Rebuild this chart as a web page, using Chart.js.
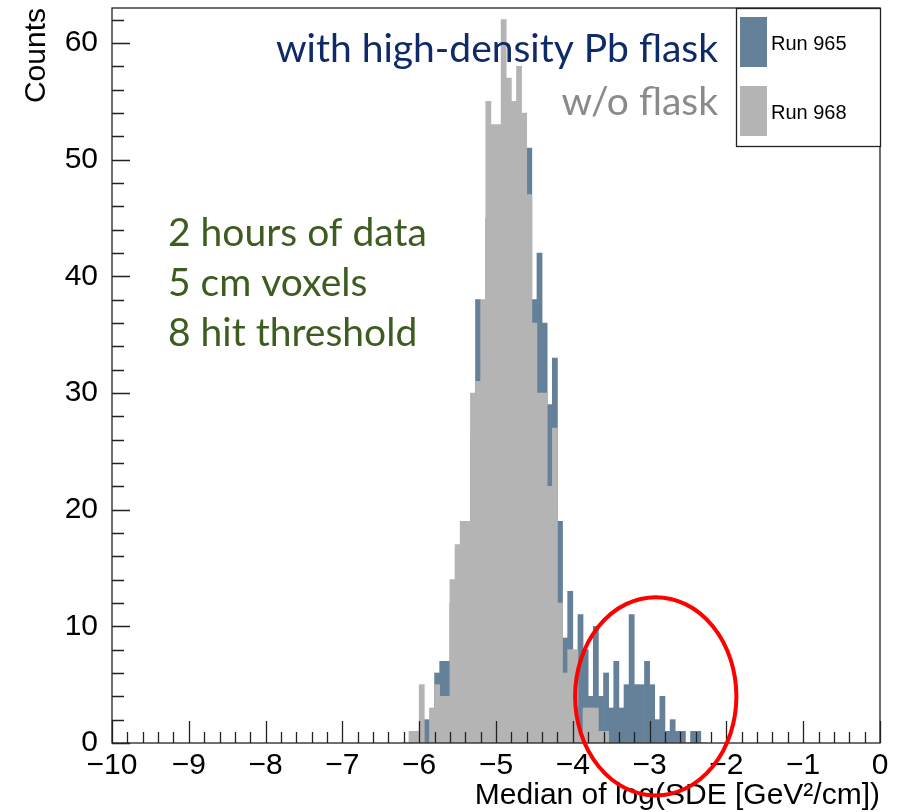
<!DOCTYPE html>
<html>
<head>
<meta charset="utf-8">
<script src="https://cdn.jsdelivr.net/npm/chart.js@4.4.1/dist/chart.umd.min.js"></script>
<style>
  html, body { margin: 0; padding: 0; background: #fff; }
</style>
</head>
<body>
<canvas id="chart1" width="898" height="812"></canvas>
<script>
// histogram: 150 bins on [-10, 0], only the filled range is listed
const firstBin = -6.2;
const binWidth = 1 / 15;
const run965 = [0, 0, 1, 1, 2, 2, 6, 7, 7, 12, 14, 16, 17, 26, 38, 33, 45, 47, 48, 50,
                49, 50, 48, 47, 51, 38, 42, 36, 29, 33, 19, 9, 13, 7, 11, 8, 4, 10, 4, 6,
                3, 7, 3, 5, 11, 5, 5, 7, 5, 2, 4, 1, 2, 1, 1, 0, 1, 1, 0];
const run968 = [0, 1, 1, 5, 0, 3, 5, 4, 4, 14, 17, 19, 19, 30, 31, 38, 55, 53, 53, 62,
                57, 55, 58, 54, 47, 36, 30, 30, 22, 27, 12, 6, 8, 8, 1, 3, 3, 3, 1, 1,
                0, 0, 0, 0, 0, 0, 0, 0, 0, 0, 0, 0, 0, 0, 0, 0, 0, 0, 0];
const seriesLabels = ["Run 965", "Run 968"];
const seriesColors = ["rgb(101,129,153)", "rgb(180,180,180)"];
const xRange = [-10, 0];
const yRange = [0, 63];

const notes = {
  top: ["with high-density Pb flask", "w/o flask"],
  topColors: ["#0f2a68", "#8a8a8a"],
  side: ["2 hours of data", "5 cm voxels", "8 hit threshold"],
  sideColor: "#3d5c20"
};

function toPoints(counts) {
  return counts.map((c, i) => ({ x: firstBin + (i + 0.5) * binWidth, y: c }));
}

const rootStyle = {
  id: "rootStyle",
  afterDatasetsDraw(chart) {
    const ctx = chart.ctx;
    const a = chart.chartArea;
    const xs = chart.scales.x, ys = chart.scales.y;
    ctx.save();
    ctx.strokeStyle = "#222";
    ctx.lineWidth = 1.3;
    ctx.strokeRect(a.left, a.top, a.right - a.left, a.bottom - a.top);
    ctx.beginPath();
    for (let i = 0; i <= 50; i++) {
      const v = xRange[0] + i * 0.2;
      const px = Math.round(xs.getPixelForValue(v)) + 0.5;
      const len = i % 5 === 0 ? 22 : 11;
      ctx.moveTo(px, a.bottom);
      ctx.lineTo(px, a.bottom - len);
    }
    for (let v = 0; v <= 62; v += 2) {
      const py = Math.round(ys.getPixelForValue(v)) + 0.5;
      const len = v % 10 === 0 ? 18 : 12;
      ctx.moveTo(a.left, py);
      ctx.lineTo(a.left + len, py);
    }
    ctx.stroke();

    // legend box
    const lx = 736, ly = a.top, lw = a.right - lx, lh = 138;
    ctx.fillStyle = "#fff";
    ctx.fillRect(lx, ly, lw, lh);
    ctx.strokeRect(lx + 0.5, ly + 0.5, lw, lh);
    ctx.font = "20px 'Liberation Sans', Arial, sans-serif";
    ctx.textBaseline = "middle";
    chart.data.datasets.forEach((ds, i) => {
      const top = ly + 9 + i * 69;
      ctx.fillStyle = ds.backgroundColor;
      ctx.fillRect(lx + 4, top, 27, 50);
      ctx.fillStyle = "#000";
      ctx.fillText(ds.label, lx + 35, top + 27);
    });
    ctx.restore();
  },
  afterDraw(chart) {
    const ctx = chart.ctx;
    const xs = chart.scales.x, ys = chart.scales.y;
    ctx.save();
    const fam = "Lato, 'Open Sans', sans-serif";
    ctx.font = "100px " + fam;
    const size = 100 * 442 / ctx.measureText(notes.top[0]).width;
    ctx.font = size.toFixed(1) + "px " + fam;
    ctx.textBaseline = "alphabetic";
    ctx.textAlign = "right";
    ctx.fillStyle = notes.topColors[0];
    ctx.fillText(notes.top[0], 718, 62);
    ctx.fillStyle = notes.topColors[1];
    ctx.fillText(notes.top[1], 718, 115);
    ctx.textAlign = "left";
    ctx.fillStyle = notes.sideColor;
    notes.side.forEach((t, i) => ctx.fillText(t, 168, 246 + i * 50));

    // red ellipse around the tail
    const cx = xs.getPixelForValue(-2.92), cy = ys.getPixelForValue(4);
    const rx = xs.getPixelForValue(-2.92 + 1.05) - cx;
    const ry = cy - ys.getPixelForValue(4 + 8.5);
    ctx.strokeStyle = "#f00";
    ctx.lineWidth = 4;
    ctx.beginPath();
    ctx.ellipse(cx, cy, rx, ry, 0, 0, Math.PI * 2);
    ctx.stroke();
    ctx.restore();
  }
};

const axisFont = { family: "'Liberation Sans', Arial, sans-serif", size: 30 };

const chart1 = document.getElementById("chart1");
const histChart = new Chart(chart1, {
  type: "bar",
  data: {
    datasets: [
      {
        label: seriesLabels[0],
        data: toPoints(run965),
        backgroundColor: seriesColors[0],
        borderWidth: 0,
        order: 1
      },
      {
        label: seriesLabels[1],
        data: toPoints(run968),
        backgroundColor: seriesColors[1],
        borderWidth: 0,
        order: 0
      }
    ]
  },
  options: {
    responsive: false,
    animation: false,
    events: [],
    layout: { padding: { left: 0, right: 18, top: 8, bottom: 0 } },
    datasets: { bar: { grouped: false, barPercentage: 1, categoryPercentage: 1 } },
    plugins: { legend: { display: false }, tooltip: { enabled: false } },
    scales: {
      x: {
        type: "linear",
        min: xRange[0],
        max: xRange[1],
        offset: false,
        afterFit: s => { s.height = 69; s.paddingLeft = 0; s.paddingRight = 0; },
        grid: { display: false },
        border: { display: false },
        ticks: {
          stepSize: 1,
          autoSkip: false,
          maxRotation: 0,
          padding: -3,
          color: "#000",
          font: axisFont,
          callback: v => String(v).replace("-", "\u2212")
        },
        title: {
          display: true,
          text: "Median of log(SDE [GeV\u00B2/cm])",
          align: "end",
          color: "#000",
          font: Object.assign({ lineHeight: 1 }, axisFont),
          padding: { top: 0, bottom: 1.5 }
        }
      },
      y: {
        min: yRange[0],
        max: yRange[1],
        afterFit: s => { s.width = 112; s.paddingTop = 0; s.paddingBottom = 0; },
        grid: { display: false },
        border: { display: false },
        ticks: {
          stepSize: 10,
          includeBounds: false,
          padding: 6,
          color: "#000",
          font: axisFont
        },
        title: {
          display: true,
          text: "Counts",
          align: "end",
          color: "#000",
          font: Object.assign({ lineHeight: 1 }, axisFont),
          padding: { top: 22, bottom: 0 }
        }
      }
    }
  },
  plugins: [rootStyle]
});
</script>
</body>
</html>
